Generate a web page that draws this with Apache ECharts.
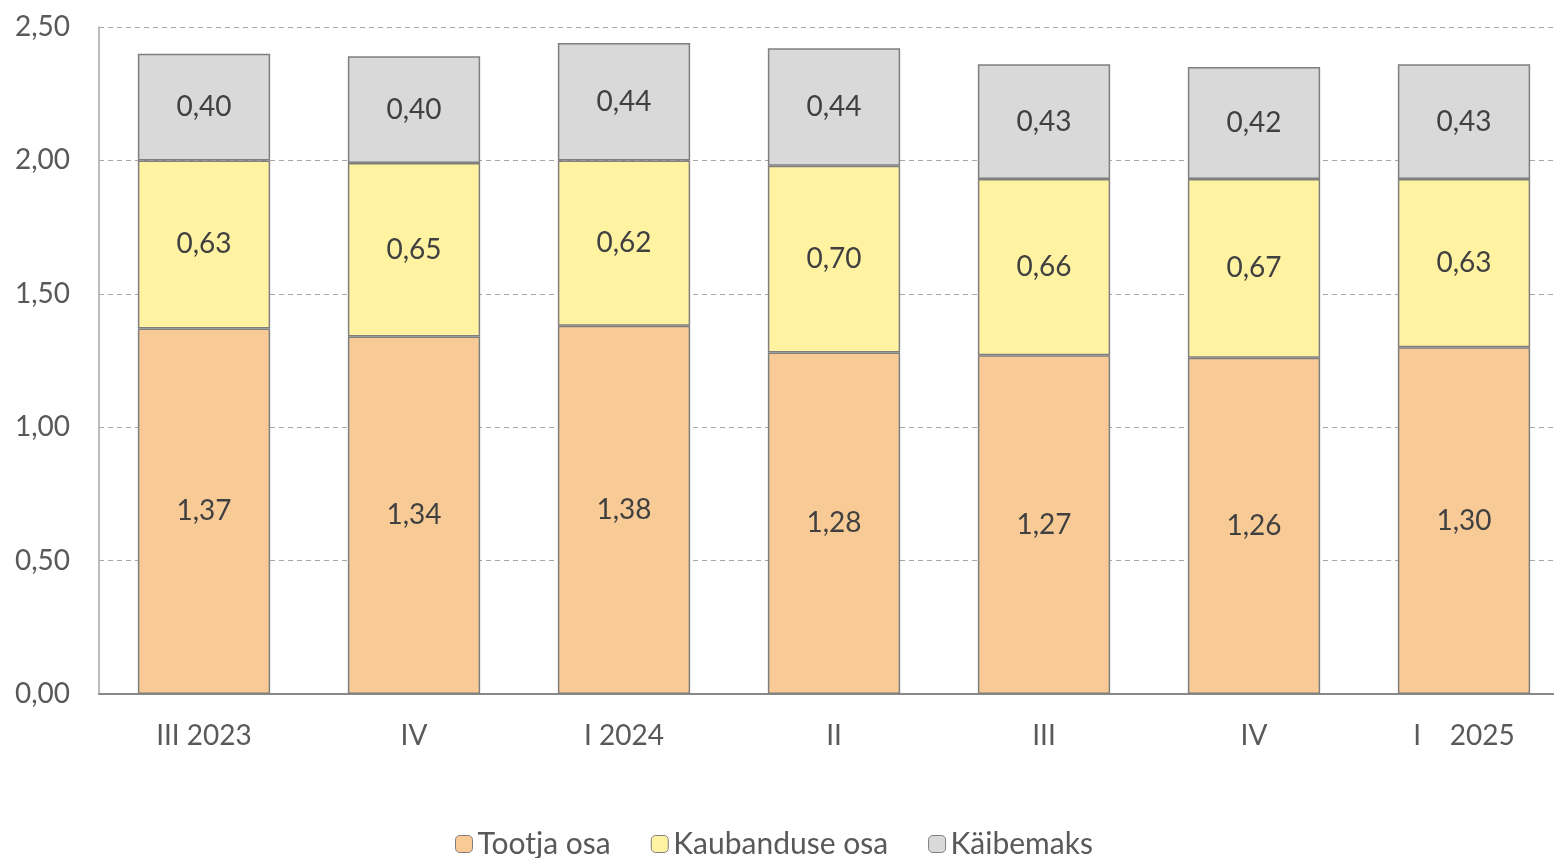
<!DOCTYPE html>
<html><head><meta charset="utf-8">
<script src="https://cdn.jsdelivr.net/npm/echarts@6/dist/echarts.min.js"></script>
<style>html,body{margin:0;padding:0;background:#fff}#c{width:1554px;height:858px}</style>
</head><body><div id="c"></div>
<script>
const categories = ["III 2023", "IV", "I 2024", "II", "III", "IV", "I    2025"];
const tootja = [1.37, 1.34, 1.38, 1.28, 1.27, 1.26, 1.30];
const kaubandus = [0.63, 0.65, 0.62, 0.70, 0.66, 0.67, 0.63];
const kaibemaks = [0.40, 0.40, 0.44, 0.44, 0.43, 0.42, 0.43];
const seriesNames = ["Tootja osa", "Kaubanduse osa", "Käibemaks"];
const colors = ["#F8CB96", "#FFF2A1", "#D9D9D9"];
const FONT = "Lato";
const fmt = v => v.toFixed(2).replace('.', ',');
const chart = echarts.init(document.getElementById('c'));
function mk(name, data, color) {
  return {
    name, type: 'bar', stack: 't', data, barWidth: '63%',
    itemStyle: { color, borderColor: '#7F7F7F', borderWidth: 1.5 },
    label: { show: true, position: 'inside', formatter: p => fmt(p.value),
      color: '#404040', fontFamily: FONT, fontSize: 28 },
    emphasis: { disabled: true }
  };
}
chart.setOption({
  animation: false,
  textStyle: { fontFamily: FONT },
  grid: { left: 99, width: 1470, top: 27, bottom: 164, outerBoundsMode: 'none', containLabel: false },
  legend: {
    bottom: -6, left: 450, itemWidth: 17, itemHeight: 17, itemGap: 40,
    textStyle: { fontFamily: FONT, fontSize: 30, color: '#595959' },
    data: seriesNames.map((n, i) => ({ name: n, itemStyle: { color: colors[i], borderColor: '#7F7F7F', borderWidth: 1 } }))
  },
  xAxis: {
    type: 'category', data: categories,
    axisLine: { lineStyle: { color: '#898989', width: 2 } },
    axisTick: { show: false },
    axisLabel: { color: '#595959', fontFamily: FONT, fontSize: 28, margin: 28 }
  },
  yAxis: {
    type: 'value', min: 0, max: 2.5, interval: 0.5,
    axisLine: { show: true, lineStyle: { color: '#A6A6A6', width: 1.5 } },
    axisTick: { show: false },
    splitLine: { lineStyle: { color: '#A6A6A6', type: [5, 4], width: 1 } },
    axisLabel: { color: '#595959', fontFamily: FONT, fontSize: 28, margin: 29, formatter: v => fmt(v) }
  },
  series: [
    mk(seriesNames[0], tootja, colors[0]),
    mk(seriesNames[1], kaubandus, colors[1]),
    mk(seriesNames[2], kaibemaks, colors[2])
  ]
});
</script></body></html>
